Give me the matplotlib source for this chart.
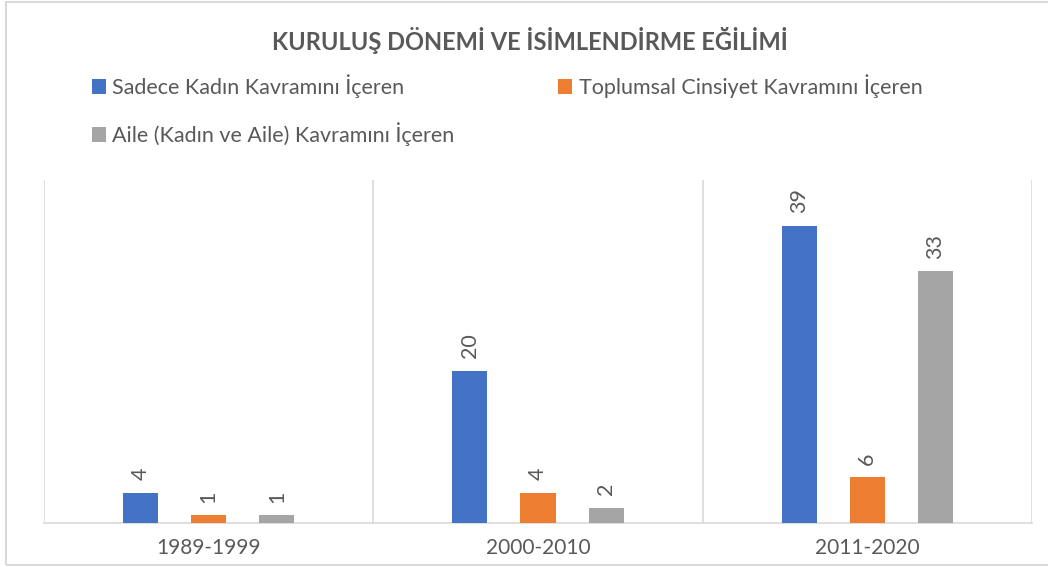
import matplotlib.pyplot as plt
import numpy as np
from matplotlib.patches import Rectangle

plt.rcParams['font.family'] = ['Lato', 'DejaVu Sans']

periods = ['1989-1999', '2000-2010', '2011-2020']
series_names = ['Sadece Kadın Kavramını İçeren',
                'Toplumsal Cinsiyet Kavramını İçeren',
                'Aile (Kadın ve Aile) Kavramını İçeren']
sadece_kadin = [4, 20, 39]
toplumsal_cinsiyet = [1, 4, 6]
aile = [1, 2, 33]

colors = ['#4472C4', '#ED7D31', '#A5A5A5']
text_color = '#595959'
grid_color = '#D9D9D9'

fig = plt.figure(figsize=(10.48, 5.67), dpi=100)
ax = fig.add_axes([0.042, 0.0776, 0.9427, 0.605])

x = np.arange(len(periods))
offset = 0.207
width = 0.107

handles = []
for i, (vals, name) in enumerate(zip([sadece_kadin, toplumsal_cinsiyet, aile], series_names)):
    pos = x + (i - 1) * offset
    bars = ax.bar(pos, vals, width=width, color=colors[i], label=name, zorder=3)
    handles.append(bars)
    for b, v in zip(bars, vals):
        ax.annotate(str(v), xy=(b.get_x() + b.get_width() / 2, v),
                    xytext=(0, 9), textcoords='offset points',
                    rotation=90, ha='center', va='bottom',
                    fontsize=15.5, color=text_color)

ax.set_xlim(-0.5, 2.5)
ax.set_ylim(0, 45)
ax.set_yticks([])
ax.set_xticks(x)
ax.set_xticklabels(periods, fontsize=15, color=text_color)
ax.tick_params(axis='x', length=0, pad=11)

# category separators
ax.set_xticks([-0.5, 0.5, 1.5, 2.5], minor=True)
ax.tick_params(axis='x', which='minor', length=0)
ax.grid(True, which='minor', axis='x', color=grid_color, lw=1.2, zorder=0)

for s in ['top', 'left', 'right']:
    ax.spines[s].set_visible(False)
ax.spines['bottom'].set_color(grid_color)
ax.spines['bottom'].set_linewidth(1.2)

fig.text(0.506, 0.928, 'KURULUŞ DÖNEMİ VE İSİMLENDİRME EĞİLİMİ',
         ha='center', va='center', fontsize=17, fontweight='bold', color=text_color)

# row-wise order: matplotlib fills legend columns first
order = [0, 2, 1]
leg = fig.legend([handles[k] for k in order], [series_names[k] for k in order],
                 loc='upper left', bbox_to_anchor=(0.0878, 0.869), ncol=2,
                 frameon=False, fontsize=15.5, handlelength=0.65, handleheight=0.7,
                 handletextpad=0.3, columnspacing=4.8, labelspacing=1.1,
                 borderpad=0, borderaxespad=0, labelcolor=text_color)

# chart border
fig.patches.append(Rectangle((6 / 1048, 2 / 567), 1.1, 563 / 567,
                             transform=fig.transFigure, fill=False,
                             edgecolor=grid_color, lw=1.5))

fig.savefig('out.png', dpi=100)
